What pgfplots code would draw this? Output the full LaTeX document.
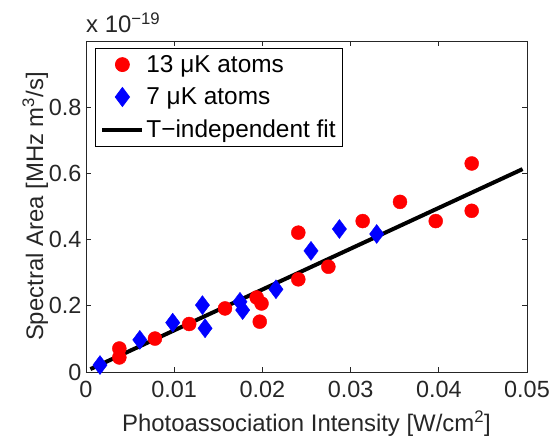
\documentclass[border=0pt]{standalone}
\usepackage{fontspec}
\setmainfont{Liberation Sans}
\usepackage{pgfplots}
\pgfplotsset{compat=1.18}
\definecolor{axgray}{RGB}{38,38,38}
\begin{document}
\begin{tikzpicture}
\useasboundingbox (-86bp,-70bp) rectangle (468bp,372bp);
\begin{axis}[
  at={(0,0)}, anchor=south west,
  scale only axis,
  width=441bp, height=331bp,
  xmin=0, xmax=0.05, ymin=0, ymax=1,
  scaled x ticks=false, scaled y ticks=false,
  xtick={0,0.01,0.02,0.03,0.04,0.05},
  xticklabels={0,0.01,0.02,0.03,0.04,0.05},
  ytick={0,0.2,0.4,0.6,0.8,1},
  yticklabels={0,0.2,0.4,0.6,0.8,},
  tick align=inside,
  major tick length=5bp,
  axis line style={axgray, line width=0.8bp},
  every tick/.style={axgray, line width=0.8bp},
  tick label style={font=\fontsize{23.5}{26}\selectfont, text=axgray},
  label style={font=\fontsize{24}{27}\selectfont, text=axgray},
  /pgf/number format/assume math mode=true,
  xticklabel style={yshift=-6bp},
  yticklabel style={xshift=-1bp},
  xlabel={Photoassociation Intensity [W/cm\textsuperscript{2}]},
  ylabel={Spectral Area [MHz m\textsuperscript{3}/s]},
  xlabel style={yshift=-6bp},
  ylabel style={yshift=-6bp},
  legend style={at={(rel axis cs:0.0204,0.979)}, anchor=north west,
    draw=black, line width=0.8bp, font=\fontsize{24.5}{27}\selectfont,
    inner xsep=5bp, inner ysep=5bp, row sep=10bp},
  legend cell align=left,
  legend image code/.code={\draw[mark repeat=2, mark phase=2, #1] plot coordinates {(0bp,0bp) (20bp,0bp) (40bp,0bp)};},
  clip=false,
]
\addplot[only marks, mark=*, mark size=7bp, color=red, mark options={fill=red, draw=red}] table {
0.00378 0.071
0.00378 0.044
0.00782 0.101
0.0117 0.145
0.01576 0.192
0.01935 0.225
0.0199 0.207
0.0197 0.152
0.02407 0.280
0.02407 0.421
0.02748 0.318
0.03137 0.456
0.0356 0.514
0.03965 0.456
0.04373 0.630
0.04373 0.487
};
\addlegendentry{13 μK atoms}
\addplot[only marks, mark=diamond*, mark size=9.5bp, color=blue, mark options={fill=blue, draw=blue}] table {
0.00159 0.021
0.0061 0.097
0.00983 0.149
0.0132 0.202
0.0135 0.132
0.01746 0.212
0.01776 0.187
0.02154 0.250
0.02551 0.366
0.02873 0.432
0.03296 0.417
};
\addlegendentry{7 μK atoms}
\addplot[black, line width=4bp] table {
0.0005 0.0087
0.0495 0.613
};
\addlegendentry{T\textminus independent fit}
\node[anchor=base west, text=axgray, font=\fontsize{24}{27}\selectfont, inner sep=0pt] at ([yshift=8bp]rel axis cs:0,1) {x 10\textsuperscript{\textminus 19}};
\end{axis}
\end{tikzpicture}
\end{document}
